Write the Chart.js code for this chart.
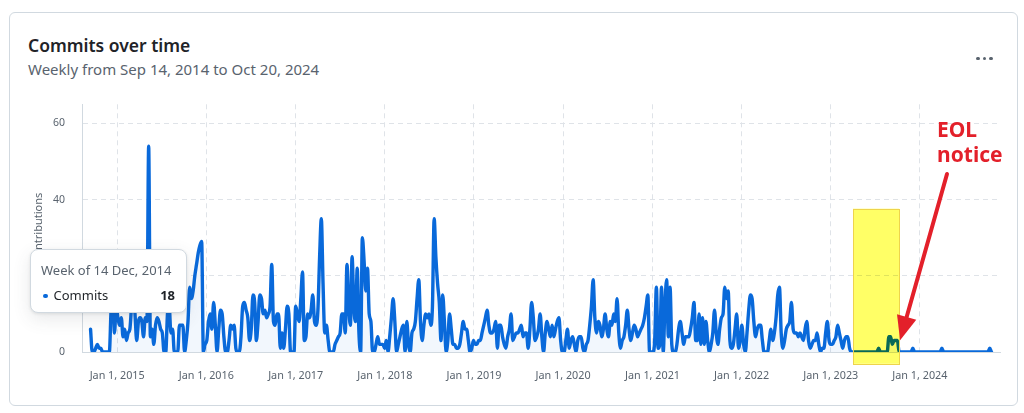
<!DOCTYPE html>
<html>
<head>
<meta charset="utf-8">
<title>Commits over time</title>
<script src="https://cdn.jsdelivr.net/npm/chart.js@4.4.1/dist/chart.umd.min.js"></script>
<style>
  html, body { margin: 0; padding: 0; background: #fff; }
  body { width: 1024px; height: 413px; position: relative; overflow: hidden; font-family: "Noto Sans", sans-serif; }
  .card { position: absolute; left: 9px; top: 12px; width: 1007px; height: 392px; border: 1px solid #d1d9e0; border-radius: 6px; }
  .title { position: absolute; left: 28px; top: 36.5px; font-size: 17.5px; line-height: 17.5px; font-weight: 600; color: #1f2328; white-space: nowrap; }
  .subtitle { position: absolute; left: 28px; top: 62px; font-size: 15px; line-height: 15px; color: #59636e; white-space: nowrap; }
  .dots { position: absolute; left: 976px; top: 43px; }
  .dots span { display: inline-block; width: 3.5px; height: 3.5px; border-radius: 50%; background: #59636e; margin-right: 3px; }
  .chart-box { position: absolute; left: 20px; top: 81px; width: 985px; height: 306px; }
  .tip { position: absolute; left: 30px; top: 249px; width: 155px; height: 62px; background: #fff; border: 1px solid #d1d9e0; border-radius: 8px;
         box-shadow: 0 1px 3px rgba(31,35,40,0.10), 0 6px 18px rgba(66,74,83,0.12); }
  .tip-week { position: absolute; left: 10px; top: 14px; font-size: 13px; line-height: 13px; color: #59636e; white-space: nowrap; }
  .tip-row { position: absolute; left: 12px; right: 11px; top: 39px; font-size: 13px; line-height: 13px; color: #1f2328; white-space: nowrap; }
  .tip-row .dot { display: inline-block; width: 4.5px; height: 4.5px; border-radius: 50%; background: #0969da; margin-right: 6px; vertical-align: 2px; }
  .tip-row b { position: absolute; right: 0; top: 0; font-weight: 700; }
  .eol { position: absolute; left: 937px; top: 117px; font-size: 21px; line-height: 25px; font-weight: 700; color: #e3202a; }
</style>
</head>
<body>
<div class="card"></div>
<div class="title">Commits over time</div>
<div class="subtitle">Weekly from Sep 14, 2014 to Oct 20, 2024</div>
<div class="dots"><span></span><span></span><span></span></div>
<div class="chart-box"><canvas id="myChartCommits"></canvas></div>
<div class="tip">
  <div class="tip-week" id="tipWeek"></div>
  <div class="tip-row"><span class="dot"></span>Commits<b id="tipValue"></b></div>
</div>
<div class="eol">EOL<br>notice</div>
<script>
// Semanas desde el domingo 14 sep 2014
const startDate = Date.UTC(2014, 8, 14)

const weeks2014 = [6, 0, 0, 1, 2, 1, 1, 0, 0, 0, 0, 0, 11, 18, 5, 12]
const weeks2015 = [9, 7, 9, 4, 6, 3, 5, 6, 12, 16, 10, 3, 8,
    9, 8, 4, 9, 8, 54, 4, 6, 2, 7, 9, 8, 6,
    5, 0, 0, 10, 12, 5, 6, 0, 0, 0, 7, 7, 7,
    0, 3, 8, 17, 14, 16, 20, 23, 26, 28, 29, 0, 2]
const weeks2016 = [3, 8, 10, 6, 13, 7, 0, 6, 11, 10, 4, 0, 0,
    3, 7, 6, 7, 1, 0, 0, 4, 12, 13, 11, 9, 3,
    6, 15, 13, 3, 8, 15, 14, 10, 11, 9, 10, 12, 23,
    8, 7, 10, 10, 1, 5, 1, 6, 12, 10, 0, 0, 0]
const weeks2017 = [12, 10, 8, 14, 21, 3, 4, 10, 9, 11, 15, 8, 7,
    11, 25, 35, 18, 5, 7, 3, 0, 0, 0, 2, 3, 4,
    5, 10, 10, 5, 23, 12, 7, 25, 12, 8, 22, 5, 0,
    30, 24, 16, 22, 10, 8, 0, 0, 2, 4, 2, 2, 2, 1]
const weeks2018 = [3, 0, 4, 9, 14, 8, 0, 2, 4, 6, 7, 0, 8,
    2, 0, 5, 6, 8, 14, 19, 8, 3, 7, 10, 9, 10,
    7, 12, 35, 25, 18, 13, 3, 15, 8, 0, 3, 10, 6,
    2, 2, 1, 1, 2, 5, 8, 6, 6, 3, 0, 1, 3]
const weeks2019 = [2, 2, 3, 3, 5, 7, 9, 11, 7, 5, 5, 6, 8,
    1, 7, 7, 4, 2, 1, 4, 6, 10, 3, 4, 5, 5,
    6, 7, 4, 5, 5, 1, 6, 13, 9, 3, 4, 6, 10,
    4, 0, 5, 8, 6, 4, 7, 4, 6, 8, 9, 3, 0]
const weeks2020 = [0, 3, 6, 1, 3, 4, 2, 0, 3, 4, 4, 1, 0,
    2, 3, 7, 12, 19, 9, 5, 8, 7, 4, 6, 10, 6,
    4, 8, 7, 10, 8, 14, 5, 1, 3, 4, 7, 11, 6,
    3, 5, 7, 6, 4, 5, 6, 7, 9, 12, 15, 0, 0]
const weeks2021 = [0, 3, 17, 1, 2, 17, 0, 12, 19, 4, 17, 2, 0,
    0, 2, 6, 8, 5, 2, 4, 4, 4, 6, 9, 13, 3,
    3, 10, 2, 9, 2, 8, 3, 0, 2, 5, 11, 5, 2,
    6, 9, 10, 17, 14, 16, 3, 1, 2, 6, 10, 1, 3]
const weeks2022 = [7, 2, 0, 5, 11, 15, 14, 8, 4, 6, 7, 7, 3,
    0, 0, 0, 3, 6, 3, 5, 9, 15, 17, 5, 1, 3,
    6, 7, 8, 13, 6, 5, 5, 4, 5, 4, 3, 6, 8,
    3, 1, 2, 3, 3, 5, 2, 0, 1, 1, 5, 8, 3]
const weeks2023 = [2, 2, 3, 4, 7, 5, 3, 1, 3, 4, 4, 1, 0,
    0, 0, 0, 0, 0, 0, 0, 0, 0, 0, 0, 0, 0,
    0, 0, 1, 0, 0, 0, 0, 0, 4, 4, 2, 3, 3,
    3, 0, 0, 0, 0, 0, 0, 0, 0, 1, 0, 0, 0, 0]
const weeks2024 = [0, 0, 0, 0, 0, 0, 0, 0, 0, 0, 0, 0, 1,
    0, 0, 0, 0, 0, 0, 0, 0, 0, 0, 0, 0, 0,
    0, 0, 0, 0, 0, 0, 0, 0, 0, 0, 0, 0, 0,
    0, 1, 0]

const tickYears = [2015, 2016, 2017, 2018, 2019, 2020, 2021, 2022, 2023, 2024]
const yTicks = [0, 20, 40, 60]
const monthNames = ['Jan', 'Feb', 'Mar', 'Apr', 'May', 'Jun', 'Jul', 'Aug', 'Sep', 'Oct', 'Nov', 'Dec']

// Marcas dibujadas a mano encima del grafico (en coordenadas de datos)
const eolBox = { from: Date.UTC(2023, 3, 2), to: Date.UTC(2023, 9, 8), top: 37.6, bottom: -3.1 }
const eolArrow = { fromX: Date.UTC(2024, 3, 21), fromY: 46.7, toX: Date.UTC(2023, 9, 12), toY: 3.1 }
const tooltipWeek = Date.UTC(2014, 11, 14)

const DAY = 86400000
const commits = [].concat(weeks2014, weeks2015, weeks2016, weeks2017, weeks2018,
    weeks2019, weeks2020, weeks2021, weeks2022, weeks2023, weeks2024)
const weekDates = commits.map((v, i) => startDate + i * 7 * DAY)
const points = commits.map((v, i) => ({ x: weekDates[i], y: v }))
const endDate = weekDates[weekDates.length - 1]

const formatTick = (value) => {
    const d = new Date(value)
    return monthNames[d.getUTCMonth()] + ' ' + d.getUTCDate() + ', ' + d.getUTCFullYear()
}

// tooltip fijo
const tipIndex = weekDates.indexOf(tooltipWeek)
const tipDate = new Date(tooltipWeek)
document.getElementById('tipWeek').textContent =
    'Week of ' + tipDate.getUTCDate() + ' ' + monthNames[tipDate.getUTCMonth()] + ', ' + tipDate.getUTCFullYear()
document.getElementById('tipValue').textContent = commits[tipIndex]

const eolMarkup = {
    id: 'eolMarkup',
    afterDatasetsDraw(chart) {
        const { ctx, scales: { x, y } } = chart
        const x0 = x.getPixelForValue(eolBox.from)
        const x1 = x.getPixelForValue(eolBox.to)
        const y0 = y.getPixelForValue(eolBox.top)
        const y1 = y.getPixelForValue(eolBox.bottom)
        ctx.save()
        ctx.globalCompositeOperation = 'multiply'
        ctx.fillStyle = '#ffff66'
        ctx.fillRect(x0, y0, x1 - x0, y1 - y0)
        ctx.globalCompositeOperation = 'source-over'
        ctx.strokeStyle = '#eed44c'
        ctx.lineWidth = 1
        ctx.strokeRect(Math.round(x0) + 0.5, Math.round(y0) + 0.5, Math.round(x1 - x0), Math.round(y1 - y0))

        // flecha
        const sx = x.getPixelForValue(eolArrow.fromX)
        const sy = y.getPixelForValue(eolArrow.fromY)
        const tx = x.getPixelForValue(eolArrow.toX)
        const ty = y.getPixelForValue(eolArrow.toY)
        const len = Math.hypot(tx - sx, ty - sy)
        const ux = (tx - sx) / len
        const uy = (ty - sy) / len
        const headLen = 24
        const headHalf = 10
        const bx = tx - ux * headLen
        const by = ty - uy * headLen
        ctx.strokeStyle = '#e3202a'
        ctx.fillStyle = '#e3202a'
        ctx.lineWidth = 4
        ctx.lineCap = 'round'
        ctx.beginPath()
        ctx.moveTo(sx, sy)
        ctx.lineTo(bx + ux * 2, by + uy * 2)
        ctx.stroke()
        ctx.beginPath()
        ctx.moveTo(tx, ty)
        ctx.lineTo(bx - uy * headHalf, by + ux * headHalf)
        ctx.lineTo(bx + uy * headHalf, by - ux * headHalf)
        ctx.closePath()
        ctx.fill()
        ctx.restore()
    }
}

const chart_Commits = document.getElementById('myChartCommits')
const myChart = new Chart(chart_Commits, {
    type: 'line',
    data: {
        datasets: [{
            label: 'Commits',
            data: points,
            borderColor: '#0969da',
            backgroundColor: 'rgba(9, 105, 218, 0.05)',
            fill: 'origin',
            borderWidth: 3.4,
            pointRadius: 0,
            cubicInterpolationMode: 'monotone',
            borderJoinStyle: 'round',
            borderCapStyle: 'round'
        }]
    },
    options: {
        responsive: true,
        maintainAspectRatio: false,
        animation: false,
        events: [],
        layout: { padding: { top: 0, right: 5, bottom: 0, left: 0 } },
        plugins: {
            legend: { display: false },
            tooltip: { enabled: false }
        },
        scales: {
            x: {
                type: 'linear',
                min: startDate - 35 * DAY,
                max: endDate + 35 * DAY,
                afterBuildTicks: (scale) => { scale.ticks = tickYears.map(yr => ({ value: Date.UTC(yr, 0, 1) })) },
                afterFit: (scale) => { scale.height = 35 },
                grid: { color: '#dfe3e8', drawTicks: false },
                border: { color: '#d1d9e0', dash: [5, 4] },
                ticks: {
                    autoSkip: false,
                    maxRotation: 0,
                    padding: 17,
                    color: '#59636e',
                    font: { family: 'Noto Sans', size: 10.8 },
                    callback: (value) => formatTick(value)
                }
            },
            y: {
                min: 0,
                max: 65,
                afterBuildTicks: (scale) => { scale.ticks = yTicks.map(v => ({ value: v })) },
                afterFit: (scale) => { scale.width = 62 },
                grid: { color: '#dfe3e8', drawTicks: false },
                border: { color: '#d1d9e0', dash: [5, 4] },
                title: {
                    display: true,
                    text: 'Contributions',
                    color: '#59636e',
                    padding: { top: 12, bottom: 0 },
                    font: { family: 'Noto Sans', size: 11 }
                },
                ticks: {
                    padding: 17,
                    color: '#59636e',
                    font: { family: 'Noto Sans', size: 10.5 }
                }
            }
        }
    },
    plugins: [eolMarkup]
})
</script>
</body>
</html>
